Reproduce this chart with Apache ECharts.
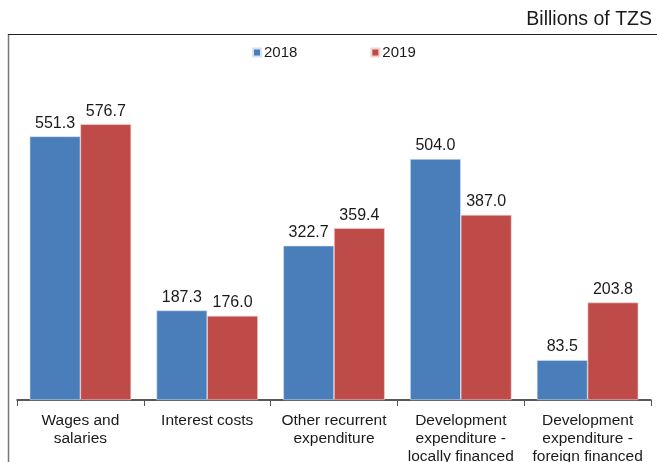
<!DOCTYPE html>
<html>
<head>
<meta charset="utf-8">
<script src="https://cdn.jsdelivr.net/npm/echarts@6/dist/echarts.min.js"></script>
<style>
  html, body { margin: 0; padding: 0; background: #fff; }
  #chart { width: 657px; height: 462px; }
</style>
</head>
<body>
<div id="chart"></div>
<script>
// Government expenditure by category, billions of TZS
const categories = [
  'Wages and\nsalaries',
  'Interest costs',
  'Other recurrent\nexpenditure',
  'Development\nexpenditure -\nlocally financed',
  'Development\nexpenditure -\nforeign financed'
];
const years = ['2018', '2019'];
const values2018 = [551.3, 187.3, 322.7, 504.0, 83.5];
const values2019 = [576.7, 176.0, 359.4, 387.0, 203.8];

const FONT = '"Liberation Sans", Arial, Helvetica, sans-serif';
const chart = echarts.init(document.getElementById('chart'), null, { renderer: 'canvas' });

const valueLabel = {
  show: true,
  position: 'top',
  distance: 5,
  formatter: p => p.value.toFixed(1),
  fontFamily: FONT,
  fontSize: 16,
  color: '#1a1a1a'
};

chart.setOption({
  animation: false,
  backgroundColor: '#fff',
  textStyle: { fontFamily: FONT },
  title: {
    text: 'Billions of TZS',
    right: 0,
    top: 5,
    textStyle: { fontFamily: FONT, fontSize: 19.5, fontWeight: 'normal', color: '#1a1a1a' }
  },
  legend: {
    data: years,
    left: 247,
    top: 40,
    icon: 'rect',
    itemWidth: 8,
    itemHeight: 8,
    itemGap: 73,
    textStyle: { fontFamily: FONT, fontSize: 15, color: '#1a1a1a', padding: [0, 0, 0, -2] }
  },
  grid: {
    left: 17, right: 6, top: 65.3, bottom: 62,
    containLabel: false,
    outerBoundsMode: 'none'
  },
  xAxis: {
    type: 'category',
    data: categories,
    axisLine: { lineStyle: { color: '#222', width: 1.5 } },
    axisTick: { show: true, length: 6, lineStyle: { color: '#555', width: 1 } },
    axisLabel: {
      interval: 0,
      margin: 12,
      fontFamily: FONT,
      fontSize: 15.5,
      lineHeight: 18,
      color: '#1a1a1a',
      align: 'center'
    }
  },
  yAxis: {
    type: 'value',
    min: 0,
    max: 700,
    show: false,
    splitLine: { show: false }
  },
  graphic: [
    {
      type: 'line',
      shape: { x1: 8.5, y1: 34, x2: 8.5, y2: 462 },
      style: { stroke: '#777', lineWidth: 1.5 }
    },
    {
      type: 'line',
      shape: { x1: 8, y1: 34.5, x2: 657, y2: 34.5 },
      style: { stroke: '#222', lineWidth: 1.2 }
    }
  ],
  series: [
    {
      name: years[0],
      type: 'bar',
      data: values2018,
      barGap: '0%',
      barCategoryGap: '20%',
      itemStyle: { color: '#4a7ebb', borderColor: '#d6e2f2', borderWidth: 0.6 },
      label: valueLabel
    },
    {
      name: years[1],
      type: 'bar',
      data: values2019,
      barGap: '0%',
      barCategoryGap: '20%',
      itemStyle: { color: '#be4b48', borderColor: '#f0d4d3', borderWidth: 0.6 },
      label: valueLabel
    }
  ]
});
</script>
</body>
</html>
